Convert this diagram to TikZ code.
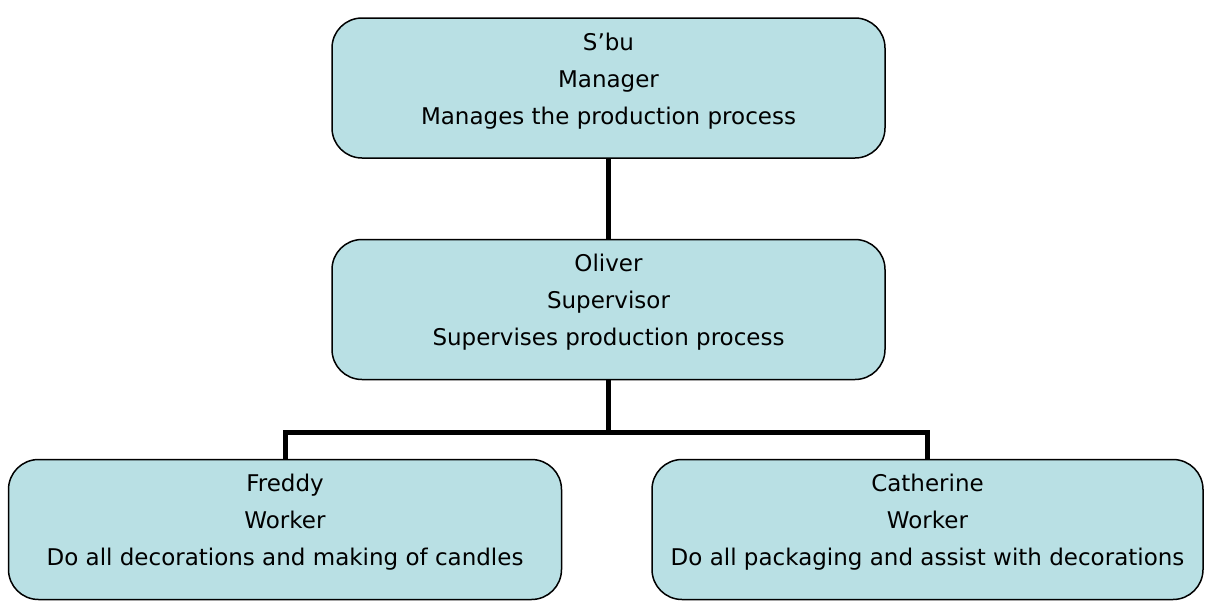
\documentclass[tikz,border=0pt]{standalone}
\usepackage{fontspec}
\setmainfont{DejaVu Sans}
\usepackage{tikz}
\usetikzlibrary{positioning}
\definecolor{colorbox}  {RGB}{185,224,228}
\definecolor{colorline} {RGB}{0,0,0}

\begin{document}
\begin{tikzpicture}[
    x=1pt, y=-1pt,
    node distance = 80pt,
    box/.style={draw=colorline,line width=1.5pt,fill=colorbox,rounded corners=30pt,
        minimum width=553pt,minimum height=140pt,align=center,
        font={\fontsize{23}{37}\selectfont}},
    link/.style={draw=colorline,line width=5pt},
]
    \useasboundingbox (0,0) rectangle (1205,605);

    % Nodes
    \node[box] (sbu) at (608.5,88) {S'bu\\Manager\\Manages the production process\\[-18pt]\mbox{}};
    \node[box,below=of sbu] (oliver) {Oliver\\Supervisor\\Supervises production process\\[-18pt]\mbox{}};
    \node[box] (freddy) at (285,529.5) {Freddy\\Worker\\Do all decorations and making of candles\\[-18pt]\mbox{}};
    \node[box,minimum width=551pt] (catherine) at (927.5,529.5) {Catherine\\Worker\\Do all packaging and assist with decorations\\[-18pt]\mbox{}};

    % Lines
    \coordinate (split) at (608.5,432);
    \draw[link] (sbu) -- (oliver);
    \draw[link] (oliver) -- (split);
    \draw[link] (freddy.north) |- (split) -| (catherine.north);

\end{tikzpicture}
\end{document}
